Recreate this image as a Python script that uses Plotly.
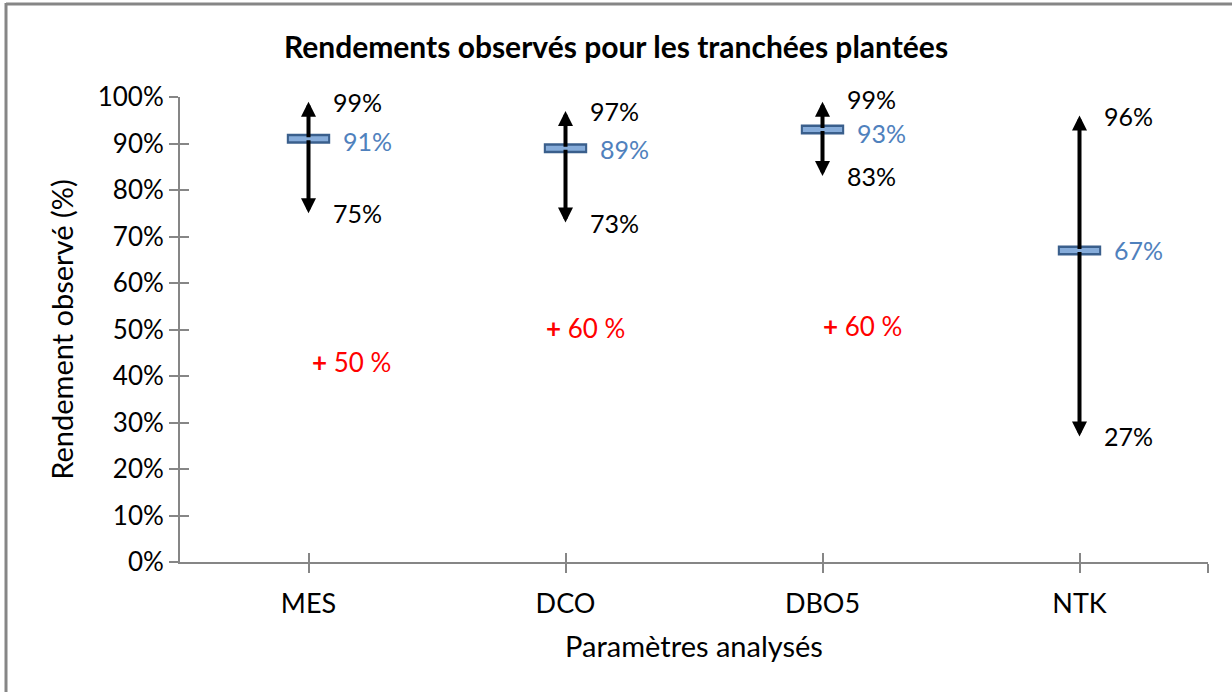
import plotly.graph_objects as go

categories = ["MES", "DCO", "DBO5", "NTK"]
mean_vals = [0.91, 0.89, 0.93, 0.67]
max_vals = [0.99, 0.97, 0.99, 0.96]
min_vals = [0.75, 0.73, 0.83, 0.27]
mean_labels = ["91%", "89%", "93%", "67%"]
max_labels = ["99%", "97%", "99%", "96%"]
min_labels = ["75%", "73%", "83%", "27%"]
red_labels = ["<b>+</b> 50 %", "<b>+</b> 60 %", "<b>+</b> 60 %"]
red_y = [0.43, 0.503, 0.508]

# label placement (pixels)
red_xshift = [1, -22, -2]
max_yshift = [0, 0, 3, 0]
mean_yshift = [-2, -1, -3, 0]
y_ticks = [i / 10 for i in range(11)]

FONT = "Lato"
GRAY = "#868686"
BLUE = "#4F81BD"
xs = list(range(len(categories)))

fig = go.Figure()

# markers (outline + fill)
fig.add_trace(go.Scatter(x=xs, y=mean_vals, mode="markers",
                         marker=dict(symbol="line-ew", size=31, line=dict(width=10, color="#3A5F8C")),
                         hoverinfo="skip", showlegend=False))
fig.add_trace(go.Scatter(x=xs, y=mean_vals, mode="markers",
                         marker=dict(symbol="line-ew", size=28, line=dict(width=5, color="#86ACDA")),
                         hoverinfo="skip", showlegend=False))
# secondary axis trace to make crossing ticks
fig.add_trace(go.Scatter(x=[None], y=[None], xaxis="x2", yaxis="y2", showlegend=False))

ann = []
for i, c in enumerate(categories):
    for tip in (max_vals[i], min_vals[i]):
        ann.append(dict(x=i, y=tip, ax=i, ay=mean_vals[i], xref="x", yref="y", axref="x", ayref="y",
                        showarrow=True, arrowhead=2, arrowsize=0.75, arrowwidth=4, arrowcolor="black",
                        text="", standoff=0))
    ann.append(dict(x=i, y=max_vals[i], text=max_labels[i], showarrow=False, xanchor="left", xshift=22,
                    yshift=max_yshift[i], font=dict(family=FONT, size=25, color="black")))
    ann.append(dict(x=i, y=min_vals[i], text=min_labels[i], showarrow=False, xanchor="left", xshift=22,
                    font=dict(family=FONT, size=25, color="black")))
    ann.append(dict(x=i, y=mean_vals[i], text=mean_labels[i], showarrow=False, xanchor="left", xshift=32,
                    yshift=mean_yshift[i], font=dict(family=FONT, size=25, color=BLUE)))
for i, t in enumerate(red_labels):
    ann.append(dict(x=i, y=red_y[i], text=t, showarrow=False, xanchor="left", xshift=red_xshift[i],
                    font=dict(family=FONT, size=26, color="#FF0000")))

fig.update_layout(
    width=1232, height=692,
    margin=dict(l=180, r=24, t=97, b=130),
    paper_bgcolor="white", plot_bgcolor="white",
    font=dict(family=FONT, size=26, color="black"),
    title=dict(text="<b>Rendements observés pour les tranchées plantées</b>", x=0.5, xanchor="center",
               y=1 - 47 / 692, yanchor="middle", font=dict(family=FONT, size=30, color="black")),
    xaxis=dict(range=[-0.5, 3.5], tickvals=xs + [3.5], ticktext=categories + [""],
               showline=True, linecolor=GRAY, linewidth=2, ticks="outside", ticklen=9,
               tickcolor=GRAY, tickwidth=2, showgrid=False, zeroline=False, ticklabelstandoff=8,
               title=dict(text="Paramètres analysés", standoff=18, font=dict(size=29)),
               tickfont=dict(size=27)),
    yaxis=dict(range=[0, 1], tickvals=y_ticks, tickformat=".0%", showline=True, linecolor=GRAY,
               linewidth=2, ticks="outside", ticklen=9, tickcolor=GRAY, tickwidth=2,
               showgrid=False, zeroline=False, tickfont=dict(size=26),
               title=dict(text="Rendement observé (%)", standoff=16, font=dict(size=29))),
    xaxis2=dict(overlaying="x", anchor="y2", side="bottom", range=[-0.5, 3.5], tickvals=xs + [3.5],
                showticklabels=False, ticks="inside", ticklen=9, tickcolor=GRAY, tickwidth=2,
                showgrid=False, zeroline=False, showline=False),
    yaxis2=dict(overlaying="y", anchor="x2", side="left", range=[0, 1], tickvals=y_ticks,
                showticklabels=False, ticks="inside", ticklen=9, tickcolor=GRAY, tickwidth=2,
                showgrid=False, zeroline=False, showline=False),
    annotations=ann,
    shapes=[
        dict(type="line", xref="paper", yref="paper", x0=-174 / 1028, x1=-174 / 1028, y0=-130 / 465 - 0.01, y1=1 + 94 / 465,
             line=dict(color=GRAY, width=3)),
        dict(type="line", xref="paper", yref="paper", x0=-174 / 1028, x1=1 + 24 / 1028, y0=1 + 93 / 465, y1=1 + 93 / 465,
             line=dict(color=GRAY, width=3)),
    ],
)

fig.write_html("out.html", config={"displayModeBar": False},
               post_script="document.body.style.margin='0';")
